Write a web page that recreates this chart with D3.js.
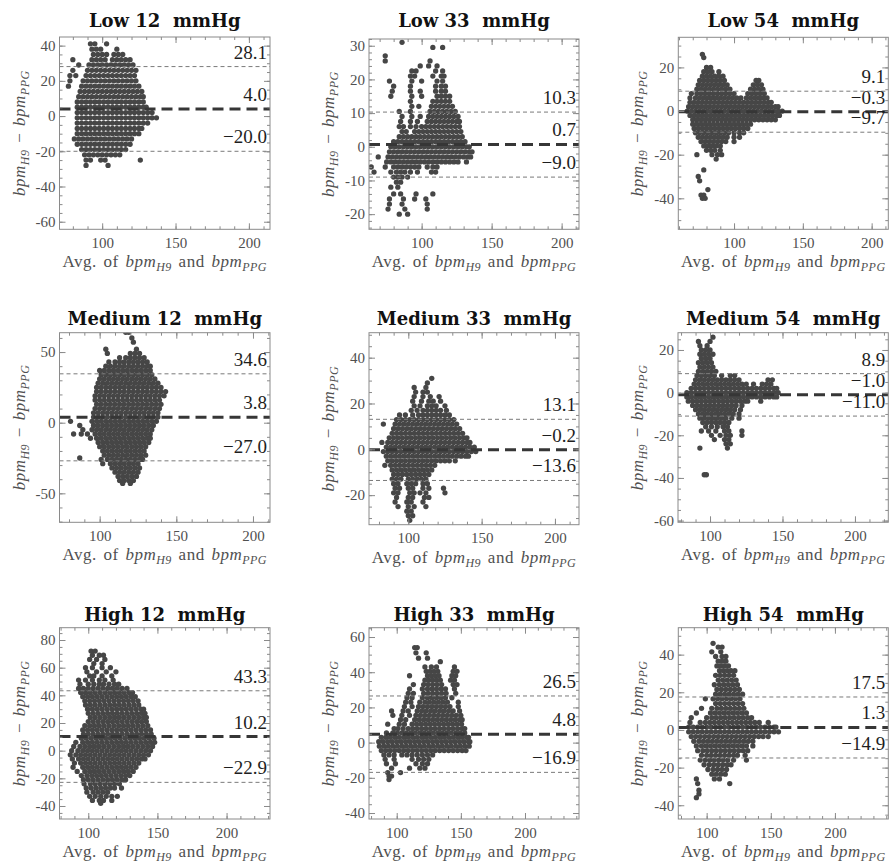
<!DOCTYPE html>
<html>
<head>
<meta charset="utf-8">
<script src="https://cdn.jsdelivr.net/npm/d3@7"></script>
<style>
  body { margin: 0; background: #fff; }
  text { white-space: pre; }
  .serif { font-family: 'Liberation Serif', 'Times New Roman', serif; }
  .title { font-family: 'DejaVu Serif', serif; font-weight: bold; }
</style>
</head>
<body>
<script>
// panel titles, in reading order
const titles = ['Low 12  mmHg', 'Low 33  mmHg', 'Low 54  mmHg',
  'Medium 12  mmHg', 'Medium 33  mmHg', 'Medium 54  mmHg',
  'High 12  mmHg', 'High 33  mmHg', 'High 54  mmHg'];

// mean difference and limits of agreement
const means = [4.0, 0.7, -0.3, 3.8, -0.2, -1.0, 10.2, 4.8, 1.3];
const upperLoA = [28.1, 10.3, 9.1, 34.6, 13.1, 8.9, 43.3, 26.5, 17.5];
const lowerLoA = [-20.0, -9.0, -9.7, -27.0, -13.6, -11.0, -22.9, -16.9, -14.9];

// axis ranges and tick steps
const xDomains = [[70.9, 214.4], [62.4, 212.4], [59.5, 212.1],
  [73.8, 211.1], [73.2, 216.4], [77.9, 223.0],
  [79.2, 231.4], [78.4, 242.1], [77.9, 241.6]];
const yDomains = [[-64.3, 44.9], [-24.5, 32.0], [-54.2, 33.8],
  [-70.5, 63.7], [-32.9, 50.9], [-60.8, 28.1],
  [-49.4, 88.9], [-43.4, 65.3], [-47.3, 54.3]];
const yMajor = [20, 10, 20, 50, 20, 20, 20, 20, 20];
const yMinor = [5, 2, 5, 10, 5, 5, 5, 5, 5];
const xMajor = 50, xMinor = 10;

// scatter points: each row is [difference, average, average, ...]
const low12 = [
  [41, 92, 95, 103],
  [38, 93, 96, 99, 110],
  [35, 94, 97, 100, 103, 108, 111, 114],
  [32, 80, 93, 96, 99, 102, 107, 110, 113, 116, 119],
  [29, 84, 91, 94, 97, 100, 103, 106, 109, 112, 115, 118, 121],
  [26, 80, 90, 93, 96, 99, 102, 105, 108, 111, 114, 117, 120, 123],
  [23, 78, 82, 89, 92, 95, 98, 101, 104, 107, 110, 113, 116, 119, 122],
  [20, 78, 87, 90, 93, 96, 99, 102, 105, 108, 111, 114, 117, 120, 123],
  [17, 77, 86, 89, 92, 95, 98, 101, 104, 107, 110, 113, 116, 119, 122, 125],
  [14, 85, 88, 91, 94, 97, 100, 103, 106, 109, 112, 115, 118, 121, 124, 127],
  [11, 84, 87, 90, 93, 96, 99, 102, 105, 108, 111, 114, 117, 120, 123, 126, 128],
  [8, 83, 86, 89, 92, 95, 98, 101, 104, 107, 110, 113, 116, 119, 122, 125, 128],
  [5, 83, 86, 89, 92, 95, 98, 101, 104, 107, 110, 113, 116, 119, 122, 125, 128, 130],
  [2, 83, 86, 89, 92, 95, 98, 101, 104, 107, 110, 113, 116, 119, 122, 125, 128, 131, 134],
  [-1, 83, 86, 89, 92, 95, 98, 101, 104, 107, 110, 113, 116, 119, 122, 125, 128, 131, 134, 137],
  [-4, 83, 86, 89, 92, 95, 98, 101, 104, 107, 110, 113, 116, 119, 122, 125, 128, 131],
  [-7, 83, 86, 89, 92, 95, 98, 101, 104, 107, 110, 113, 116, 119, 122, 125, 127],
  [-10, 83, 86, 89, 92, 95, 98, 101, 104, 107, 110, 113, 116, 119, 122, 125],
  [-13, 81, 84, 87, 90, 93, 96, 99, 102, 105, 108, 111, 114, 117, 120],
  [-16, 83, 86, 89, 92, 95, 98, 101, 104, 107, 110, 113, 116, 119],
  [-19, 86, 89, 92, 95, 98, 101, 104, 107, 110, 113, 116],
  [-22, 88, 91, 94, 97, 100, 103, 106, 109, 112],
  [-25, 89, 92, 99, 102, 126],
  [-28, 89, 104]
];

const low33 = [
  [31, 86],
  [29.5, 108, 115],
  [27, 74],
  [25.5, 74, 106],
  [24, 99, 105, 111],
  [22.5, 93, 96, 110, 115],
  [21, 92, 95, 108, 114, 116],
  [19.5, 77, 93, 100, 111, 115],
  [18, 80, 92, 110, 114, 117],
  [16.5, 79, 92, 99, 110, 114, 117],
  [15, 78, 93, 100, 111, 114, 117, 120],
  [13.5, 92, 108, 111, 114, 117, 120],
  [12, 93, 98, 107, 110, 113, 116, 119, 122],
  [10.5, 84, 92, 106, 109, 112, 115, 118, 121, 124],
  [9, 86, 93, 99, 105, 108, 111, 114, 117, 120, 123, 126],
  [7.5, 85, 92, 97, 104, 107, 110, 113, 116, 119, 122, 125, 127],
  [6, 84, 87, 92, 96, 100, 103, 106, 109, 112, 115, 118, 121, 124, 127],
  [4.5, 86, 89, 95, 98, 101, 104, 107, 110, 113, 116, 119, 122, 125, 128],
  [3, 84, 87, 90, 93, 96, 99, 102, 105, 108, 111, 114, 117, 120, 123, 126, 129],
  [1.5, 80, 83, 86, 89, 92, 95, 98, 101, 104, 107, 110, 113, 116, 119, 122, 125, 128, 131],
  [0, 78, 81, 84, 87, 90, 93, 96, 99, 102, 105, 108, 111, 114, 117, 120, 123, 126, 129, 132, 134],
  [-1.5, 77, 80, 83, 86, 89, 92, 95, 98, 101, 104, 107, 110, 113, 116, 119, 122, 125, 128, 131, 134, 136],
  [-3, 69, 76, 79, 82, 85, 88, 91, 94, 97, 100, 103, 106, 109, 112, 115, 118, 121, 124, 127, 130, 133, 135],
  [-4.5, 75, 78, 81, 84, 87, 90, 93, 96, 99, 102, 105, 108, 111, 114, 117, 120, 123, 126, 132],
  [-6, 64, 74, 80, 83, 86, 89, 92, 95, 98, 104, 108, 111],
  [-7.5, 66, 78, 82, 85, 88, 92, 97, 107, 110],
  [-9, 80, 83, 86, 90],
  [-10.5, 82, 85],
  [-12, 78, 83],
  [-14, 80, 85, 96, 108],
  [-15.5, 77, 87, 95, 103],
  [-17, 77, 86, 104],
  [-18.5, 76, 88, 104],
  [-20, 84, 90]
];

const low54 = [
  [26, 77],
  [24.5, 78],
  [20, 80, 83],
  [18, 78, 81, 84, 89],
  [16, 77, 80, 83, 86, 89, 92],
  [14, 75, 78, 81, 84, 87, 90, 93, 116, 118],
  [12, 74, 77, 80, 83, 86, 89, 92, 95, 114, 117, 120],
  [10, 73, 76, 79, 82, 85, 88, 91, 94, 97, 112, 115, 118, 121],
  [8, 69, 73, 76, 79, 82, 85, 88, 91, 94, 97, 100, 110, 113, 116, 119, 122],
  [6, 68, 72, 75, 78, 81, 84, 87, 90, 93, 96, 99, 102, 105, 109, 112, 115, 118, 121, 124],
  [4, 68, 71, 74, 77, 80, 83, 86, 89, 92, 95, 98, 101, 104, 107, 110, 113, 116, 119, 122, 125, 127],
  [2, 67, 70, 73, 76, 79, 82, 85, 88, 91, 94, 97, 100, 103, 106, 109, 112, 115, 118, 121, 124, 127, 130, 132],
  [0, 66, 69, 72, 75, 78, 81, 84, 87, 90, 93, 96, 99, 102, 105, 108, 111, 114, 117, 120, 123, 126, 129, 132, 135],
  [-2, 68, 71, 74, 77, 80, 83, 86, 89, 92, 95, 98, 101, 104, 107, 110, 113, 116, 119, 122, 125, 128, 131, 133],
  [-4, 70, 73, 76, 79, 82, 85, 88, 91, 94, 97, 100, 103, 106, 109, 112, 115, 118, 121, 124, 127, 130],
  [-6, 70, 73, 76, 79, 82, 85, 88, 91, 94, 97, 100, 103, 106, 109, 112],
  [-8, 71, 74, 77, 80, 83, 86, 89, 92, 95, 98, 101, 104, 107, 110],
  [-10, 72, 75, 78, 81, 84, 87, 90, 93, 96, 100, 104, 107],
  [-12, 74, 77, 80, 83, 86, 89, 92, 95, 100, 104],
  [-14, 76, 79, 82, 85, 88, 91, 94, 100],
  [-16, 78, 81, 84, 87, 90],
  [-18, 80, 83, 86, 90],
  [-20, 73, 84, 88, 91],
  [-22, 87],
  [-27, 78],
  [-30, 74],
  [-32, 75],
  [-36, 81],
  [-38.5, 76, 78],
  [-40, 77, 79]
];

const med12 = [
  [64, 117, 119],
  [60, 121],
  [57, 122],
  [52, 104, 124],
  [49, 105, 120, 123, 126],
  [46, 113, 117, 120, 123, 126, 129],
  [43, 106, 110, 113, 116, 119, 122, 125, 128, 131],
  [40, 104, 107, 110, 113, 116, 119, 122, 125, 128, 131, 133],
  [37, 100, 103, 106, 109, 112, 115, 118, 121, 124, 127, 130, 133],
  [34, 101, 104, 107, 110, 113, 116, 119, 122, 125, 128, 131, 134],
  [31, 100, 103, 106, 109, 112, 115, 118, 121, 124, 127, 130, 133, 136],
  [28, 99, 102, 105, 108, 111, 114, 117, 120, 123, 126, 129, 132, 135, 138],
  [25, 98, 101, 104, 107, 110, 113, 116, 119, 122, 125, 128, 131, 134, 137, 140],
  [22, 98, 101, 104, 107, 110, 113, 116, 119, 122, 125, 128, 131, 134, 137, 140, 143],
  [19, 97, 100, 103, 106, 109, 112, 115, 118, 121, 124, 127, 130, 133, 136, 139, 142],
  [16, 97, 100, 103, 106, 109, 112, 115, 118, 121, 124, 127, 130, 133, 136, 139],
  [13, 98, 101, 104, 107, 110, 113, 116, 119, 122, 125, 128, 131, 134, 137, 140],
  [10, 97, 100, 103, 106, 109, 112, 115, 118, 121, 124, 127, 130, 133, 136, 139],
  [7, 96, 99, 102, 105, 108, 111, 114, 117, 120, 123, 126, 129, 132, 135, 138],
  [4, 96, 99, 102, 105, 108, 111, 114, 117, 120, 123, 126, 129, 132, 135, 138],
  [1, 81, 95, 98, 101, 104, 107, 110, 113, 116, 119, 122, 125, 128, 131, 134, 137],
  [-2, 87, 96, 99, 102, 105, 108, 111, 114, 117, 120, 123, 126, 129, 132, 135],
  [-5, 89, 95, 98, 101, 104, 107, 110, 113, 116, 119, 122, 125, 128, 131, 134],
  [-8, 83, 88, 92, 97, 100, 103, 106, 109, 112, 115, 118, 121, 124, 127, 130, 133],
  [-11, 94, 98, 101, 104, 107, 110, 113, 116, 119, 122, 125, 128, 131, 133],
  [-14, 99, 102, 105, 108, 111, 114, 117, 120, 123, 126, 129, 132],
  [-17, 100, 103, 106, 109, 112, 115, 118, 121, 124, 127, 130],
  [-20, 102, 105, 108, 111, 114, 117, 120, 123, 126, 129],
  [-23, 103, 106, 109, 112, 115, 118, 121, 124, 127, 130],
  [-25, 87],
  [-26, 101, 105, 108, 111, 114, 117, 120, 123, 126, 128],
  [-29, 102, 107, 110, 113, 116, 119, 122, 125],
  [-32, 108, 111, 114, 117, 120, 123, 126],
  [-35, 110, 113, 116, 119, 122, 125],
  [-38, 112, 115, 118, 121, 124],
  [-41, 113, 116, 119, 122],
  [-43, 115, 120]
];

const med33 = [
  [31, 116],
  [29, 113],
  [27, 104, 112],
  [25, 105, 110, 113],
  [23, 104, 110, 115, 121],
  [21, 103, 109, 114, 117, 122],
  [19, 104, 108, 113, 116, 119, 125],
  [17, 102, 106, 110, 113, 116, 119, 122, 126],
  [15, 94, 98, 103, 107, 110, 113, 116, 119, 122, 125, 128],
  [13, 92, 95, 98, 101, 104, 107, 110, 113, 116, 119, 122, 125, 128, 131],
  [11, 83, 91, 94, 97, 100, 103, 106, 109, 112, 115, 118, 121, 124, 127, 130, 133],
  [9, 90, 93, 96, 99, 102, 105, 108, 111, 114, 117, 120, 123, 126, 129, 132, 135],
  [7, 89, 92, 95, 98, 101, 104, 107, 110, 113, 116, 119, 122, 125, 128, 131, 134, 137],
  [5, 87, 90, 93, 96, 99, 102, 105, 108, 111, 114, 117, 120, 123, 126, 129, 132, 135, 138, 140],
  [3, 82, 86, 89, 92, 95, 98, 101, 104, 107, 110, 113, 116, 119, 122, 125, 128, 131, 134, 137, 140, 142],
  [1, 85, 88, 91, 94, 97, 100, 103, 106, 109, 112, 115, 118, 121, 124, 127, 130, 133, 136, 139, 142, 145],
  [-1, 83, 86, 89, 92, 95, 98, 101, 104, 107, 110, 113, 116, 119, 122, 125, 128, 131, 134, 137, 140, 143, 146],
  [-3, 85, 88, 91, 94, 97, 100, 103, 106, 109, 112, 115, 118, 121, 124, 127, 130, 133, 136, 139, 141],
  [-5, 86, 89, 92, 95, 98, 101, 104, 107, 110, 113, 116, 119, 122, 125, 128, 132],
  [-7, 84, 88, 91, 94, 97, 100, 103, 106, 109, 112, 115, 118],
  [-9, 89, 92, 95, 98, 101, 104, 107, 110, 113, 116],
  [-11, 90, 93, 96, 99, 102, 105, 108, 111, 114],
  [-13, 89, 92, 95, 100, 103, 106, 109, 112],
  [-15, 90, 93, 99, 102, 105, 110, 113],
  [-17, 91, 94, 100, 103, 110, 114, 124],
  [-19, 90, 93, 101, 104, 108, 112, 125],
  [-21, 92, 100, 103, 111, 114],
  [-23, 91, 99, 102, 110],
  [-25, 93, 100, 104, 112],
  [-27, 99, 102],
  [-29, 100, 103],
  [-31, 101]
];

const med54 = [
  [26, 102],
  [24, 92, 100],
  [22, 93, 98],
  [20, 94, 97, 100],
  [18, 93, 96, 99, 102],
  [16, 94, 97, 100],
  [14, 92, 95, 98, 101],
  [12, 93, 96, 99, 102],
  [10, 92, 95, 98, 101, 104],
  [8, 91, 94, 97, 100, 103, 108, 114, 117],
  [6, 90, 93, 96, 99, 102, 105, 108, 111, 114, 117, 120, 140, 143],
  [4, 89, 92, 95, 98, 101, 104, 107, 110, 113, 116, 119, 122, 125, 130, 136, 139, 142],
  [2, 87, 90, 93, 96, 99, 102, 105, 108, 111, 114, 117, 120, 123, 126, 129, 132, 135, 138, 141, 144, 146],
  [0, 84, 87, 90, 93, 96, 99, 102, 105, 108, 111, 114, 117, 120, 123, 126, 129, 132, 135, 138, 141, 144, 147],
  [-2, 84, 87, 90, 93, 96, 99, 102, 105, 108, 111, 114, 117, 120, 123, 126, 129, 132, 135, 138, 141, 144, 146],
  [-4, 85, 88, 91, 94, 97, 100, 103, 106, 109, 112, 115, 118, 121, 124, 126, 135],
  [-6, 88, 91, 94, 97, 100, 103, 106, 109, 112, 115, 118, 122],
  [-8, 90, 93, 96, 99, 102, 105, 108, 111, 114, 117, 121],
  [-10, 92, 95, 98, 101, 104, 107, 110, 113, 116, 120],
  [-12, 93, 96, 99, 102, 105, 108, 111, 115, 120],
  [-14, 95, 98, 101, 104, 107, 110, 113],
  [-16, 97, 101, 105, 109, 112],
  [-18, 94, 99, 104, 110, 113, 122],
  [-20, 101, 107, 111, 114, 122],
  [-22, 103, 110, 113],
  [-24, 111, 114],
  [-26, 93, 112],
  [-38.5, 96, 97.5]
];

const high12 = [
  [72, 102, 105],
  [69, 103, 108, 111],
  [66, 101, 106, 112],
  [63, 104, 110],
  [60, 98, 103, 110, 116],
  [57, 99, 106, 113, 120],
  [54, 101, 104, 110, 117],
  [51, 93, 98, 103, 108, 112, 118],
  [48, 94, 100, 104, 108, 111, 115, 119, 122],
  [45, 93, 96.5, 100, 103.5, 107, 110.5, 114, 117.5, 121, 124.5, 128],
  [42, 94.5, 98, 101.5, 105, 108.5, 112, 115.5, 119, 122.5, 126, 129.5, 132],
  [39, 96, 99.5, 103, 106.5, 110, 113.5, 117, 120.5, 124, 127.5, 131, 134],
  [36, 97.5, 101, 104.5, 108, 111.5, 115, 118.5, 122, 125.5, 129, 132.5, 136],
  [33, 98, 101.5, 105, 108.5, 112, 115.5, 119, 122.5, 126, 129.5, 133, 136.5],
  [30, 99.5, 103, 106.5, 110, 113.5, 117, 120.5, 124, 127.5, 131, 134.5, 138, 140],
  [27, 100, 103.5, 107, 110.5, 114, 117.5, 121, 124.5, 128, 131.5, 135, 138.5, 141],
  [24, 101.5, 105, 108.5, 112, 115.5, 119, 122.5, 126, 129.5, 133, 136.5, 140, 142],
  [21, 100, 103.5, 107, 110.5, 114, 117.5, 121, 124.5, 128, 131.5, 135, 138.5, 142],
  [18, 97.5, 101, 104.5, 108, 111.5, 115, 118.5, 122, 125.5, 129, 132.5, 136, 139.5, 143],
  [15, 96, 99.5, 103, 106.5, 110, 113.5, 117, 120.5, 124, 127.5, 131, 134.5, 138, 141.5, 145],
  [12, 96.5, 100, 103.5, 107, 110.5, 114, 117.5, 121, 124.5, 128, 131.5, 135, 138.5, 142, 145.5],
  [9, 95, 98.5, 102, 105.5, 109, 112.5, 116, 119.5, 123, 126.5, 130, 133.5, 137, 140.5, 144, 147.5],
  [6, 91, 96, 99.5, 103, 106.5, 110, 113.5, 117, 120.5, 124, 127.5, 131, 134.5, 138, 141.5, 145, 148],
  [3, 89.5, 94, 97.5, 101, 104.5, 108, 111.5, 115, 118.5, 122, 125.5, 129, 132.5, 136, 139.5, 143, 146.5],
  [0, 88, 92.5, 96, 99.5, 103, 106.5, 110, 113.5, 117, 120.5, 124, 127.5, 131, 134.5, 138, 141.5, 145],
  [-3, 87, 91, 94.5, 98, 101.5, 105, 108.5, 112, 115.5, 119, 122.5, 126, 129.5, 133, 136.5, 140, 143.5],
  [-6, 88.5, 93, 96.5, 100, 103.5, 107, 110.5, 114, 117.5, 121, 124.5, 128, 131.5, 135, 138.5, 141],
  [-9, 90, 94.5, 98, 101.5, 105, 108.5, 112, 115.5, 119, 122.5, 126, 129.5, 133, 136.5],
  [-12, 89, 96, 99.5, 103, 106.5, 110, 113.5, 117, 120.5, 124, 127.5, 131, 134.5],
  [-15, 92, 97.5, 101, 104.5, 108, 111.5, 115, 118.5, 122, 125.5, 129, 132.5],
  [-18, 95, 99, 102.5, 106, 109.5, 113, 116.5, 120, 123.5, 127, 130],
  [-21, 96.5, 100, 103.5, 107, 110.5, 114, 117.5, 121, 124.5, 127],
  [-24, 97, 101.5, 105, 108.5, 112, 115.5, 119, 122.5],
  [-27, 98.5, 102, 105.5, 109, 112.5, 116, 119, 124],
  [-30, 99, 103.5, 107, 110.5, 114],
  [-33, 101, 105, 109, 113, 117, 121],
  [-36, 103, 108, 111, 117],
  [-38, 109]
];

const high33 = [
  [54, 114, 116],
  [51, 115, 123],
  [48, 117, 124],
  [46, 134],
  [43, 122, 127, 131, 145],
  [40.5, 123, 126, 129, 132, 144, 147],
  [38, 110, 124, 127, 130, 133, 143, 146],
  [35.5, 122, 125, 128, 131, 134, 142, 145],
  [33, 113, 121, 124.5, 128, 131.5, 135, 144, 147],
  [30.5, 110, 120, 124, 127.5, 131, 134.5, 138, 145],
  [28, 109, 113, 121, 124.5, 128, 131.5, 135, 138.5, 146],
  [25.5, 108, 112, 120, 124, 127.5, 131, 134.5, 138, 143],
  [23, 107, 111, 118, 122, 125.5, 129, 132.5, 136, 139.5, 148],
  [20.5, 106, 112, 117, 120.5, 124, 127.5, 131, 134.5, 138, 141.5, 148],
  [18, 96, 105, 109, 116, 119.5, 123, 126.5, 130, 133.5, 137, 140.5, 144, 149],
  [15.5, 97, 104, 110, 115, 118.5, 122, 125.5, 129, 132.5, 136, 139.5, 143, 146.5, 150],
  [13, 103, 107, 114, 117.5, 121, 124.5, 128, 131.5, 135, 138.5, 142, 145.5, 149, 151],
  [10.5, 93, 102, 106, 112, 115.5, 119, 122.5, 126, 129.5, 133, 136.5, 140, 143.5, 147, 150.5],
  [8, 98, 101, 105, 109, 112.5, 116, 119.5, 123, 126.5, 130, 133.5, 137, 140.5, 144, 147.5, 151, 153],
  [5.5, 92, 97, 100.5, 104, 107.5, 111, 114.5, 118, 121.5, 125, 128.5, 132, 135.5, 139, 142.5, 146, 149.5, 153],
  [3, 88, 91.5, 95, 98.5, 102, 105.5, 109, 112.5, 116, 119.5, 123, 126.5, 130, 133.5, 137, 140.5, 144, 147.5, 151, 154.5, 156],
  [0.5, 86, 89.5, 93, 96.5, 100, 103.5, 107, 110.5, 114, 117.5, 121, 124.5, 128, 131.5, 135, 138.5, 142, 145.5, 149, 152.5, 156, 157],
  [-2, 86.5, 90, 93.5, 97, 100.5, 104, 107.5, 111, 114.5, 118, 121.5, 125, 128.5, 132, 135.5, 139, 142.5, 146, 149.5, 153, 156.5],
  [-4.5, 88, 91.5, 95, 98.5, 102, 105.5, 109, 112.5, 116, 119.5, 123, 126.5, 130, 133.5, 137, 140.5, 144, 147.5, 151, 154],
  [-7, 90, 94, 98, 104, 108, 112, 116, 120, 124, 128],
  [-9.5, 91, 98, 112, 117, 121, 125],
  [-12, 92, 99, 115, 120, 124],
  [-14.5, 96, 110, 118, 122],
  [-17, 93, 103],
  [-19, 94, 96],
  [-21, 94]
];

const high54 = [
  [46, 105],
  [44, 109, 112],
  [41.5, 104, 111],
  [39, 107, 112, 115],
  [36.5, 109, 112, 115],
  [34, 108, 111, 114, 117],
  [31.5, 110, 113, 116, 119, 122],
  [29, 107, 110.5, 114, 117.5, 121],
  [26.5, 109, 112.5, 116, 119.5, 123],
  [24, 106, 110, 113.5, 117, 120.5, 124],
  [21.5, 108, 111.5, 115, 118.5, 122, 125.5],
  [19, 107, 110.5, 114, 117.5, 121, 124.5, 128],
  [16.5, 99, 105, 108.5, 112, 115.5, 119, 122.5, 126],
  [14, 107, 110.5, 114, 117.5, 121, 124.5, 128],
  [11.5, 96, 104, 108, 111.5, 115, 118.5, 122, 125.5, 129],
  [9, 92, 103, 106.5, 110, 113.5, 117, 120.5, 124, 127.5, 131],
  [6.5, 88, 100, 104, 107.5, 111, 114.5, 118, 121.5, 125, 128.5, 132, 135],
  [4, 87, 95, 99, 102.5, 106, 109.5, 113, 116.5, 120, 123.5, 127, 130.5, 134, 137.5, 141, 148],
  [1.5, 86, 89.5, 93, 96.5, 100, 103.5, 107, 110.5, 114, 117.5, 121, 124.5, 128, 131.5, 135, 138.5, 142, 145.5, 149, 152.5, 154],
  [-1, 86, 89.5, 93, 96.5, 100, 103.5, 107, 110.5, 114, 117.5, 121, 124.5, 128, 131.5, 135, 138.5, 142, 145.5, 149, 152.5, 156],
  [-3.5, 88, 91.5, 95, 98.5, 102, 105.5, 109, 112.5, 116, 119.5, 123, 126.5, 130, 133.5, 137, 140.5, 144, 148],
  [-6, 90, 94, 97.5, 101, 104.5, 108, 111.5, 115, 118.5, 122, 125.5, 129, 132.5, 136],
  [-8.5, 92, 96, 99.5, 103, 106.5, 110, 113.5, 117, 120.5, 124, 127.5, 131, 136],
  [-11, 93, 97, 100.5, 104, 107.5, 111, 114.5, 118, 121.5, 125, 128.5, 132],
  [-13.5, 96, 100, 103.5, 107, 110.5, 114, 117.5, 121, 124, 130],
  [-16, 95, 99, 102.5, 106, 109.5, 113, 116.5, 121, 131],
  [-18.5, 98, 102, 105.5, 109, 112.5, 116, 119],
  [-21, 101, 105, 108.5, 112, 115.5],
  [-23.5, 104, 107.5, 111, 114.5],
  [-26, 92, 106, 110],
  [-28.5, 93, 118],
  [-32, 94],
  [-34, 94],
  [-36, 92]
];

const series = [low12, low33, low54, med12, med33, med54, high12, high33, high54];

// axis label pieces: 0 roman, 1 italic, 2 italic subscript
const xLabelParts = [['Avg. of ', 0], ['bpm', 1], ['H9', 2], [' and ', 0], ['bpm', 1], ['PPG', 2]];
const yLabelParts = [['bpm', 1], ['H9', 2], [' \u2212 ', 0], ['bpm', 1], ['PPG', 2]];

// ---- layout (pixels) ----
const width = 889, height = 863;
const frames = [
  { x: 59.5, y: 37, w: 210.5, h: 192.3 },
  { x: 369, y: 39, w: 210, h: 190.3 },
  { x: 678.3, y: 37.3, w: 210, h: 192 },
  { x: 59.5, y: 332.7, w: 210.5, h: 189.6 },
  { x: 369, y: 332.7, w: 210, h: 192 },
  { x: 678, y: 332.7, w: 210.3, h: 189.6 },
  { x: 59.5, y: 627.7, w: 210.5, h: 191.3 },
  { x: 369, y: 627.7, w: 210, h: 191.3 },
  { x: 678.3, y: 627.7, w: 210, h: 191.3 }
];
const titleBaseline = [27.3, 325, 621];

const frameColor = '#8a8a8a';
const labelColor = '#505050';

const svg = d3.select('body')
  .append('svg')
  .attr('width', width)
  .attr('height', height);

function stepsIn(domain, step) {
  const lo = Math.ceil(domain[0] / step) * step;
  return d3.range(lo, domain[1] + 1e-9, step);
}

function writeLabel(text, parts) {
  let inSub = false;
  parts.forEach(([t, kind]) => {
    const ts = text.append('tspan').text(t);
    if (kind > 0) ts.attr('font-style', 'italic');
    if (kind === 2) {
      ts.attr('font-size', 12).attr('dy', 4);
      inSub = true;
    } else if (inSub) {
      ts.attr('dy', -4);
      inSub = false;
    }
  });
}

function fmt(v) {
  return v.toFixed(1).replace('-', '\u2212');
}

series.forEach((rows, i) => {
  const f = frames[i];
  const x = d3.scaleLinear().domain(xDomains[i]).range([f.x, f.x + f.w]);
  const y = d3.scaleLinear().domain(yDomains[i]).range([f.y + f.h, f.y]);
  const g = svg.append('g').attr('class', 'panel');

  g.append('clipPath').attr('id', 'clip' + i)
    .append('rect')
    .attr('x', f.x).attr('y', f.y).attr('width', f.w).attr('height', f.h);

  const pts = rows.flatMap(([d, ...avgs]) => avgs.map(a => ({ avg: a, diff: d })));

  const plot = g.append('g').attr('clip-path', `url(#clip${i})`);

  plot.selectAll('circle')
    .data(pts)
    .enter()
    .append('circle')
    .attr('cx', d => x(d.avg))
    .attr('cy', d => y(d.diff))
    .attr('r', 2.65)
    .attr('fill', '#464646');

  // limits of agreement (thin dashed) and mean (thick dashed)
  plot.selectAll('line.loa')
    .data([upperLoA[i], lowerLoA[i]])
    .enter()
    .append('line')
    .attr('class', 'loa')
    .attr('x1', f.x).attr('x2', f.x + f.w)
    .attr('y1', d => y(d)).attr('y2', d => y(d))
    .attr('stroke', '#7a7a7a')
    .attr('stroke-width', 1)
    .attr('stroke-dasharray', '4,3');

  plot.append('line')
    .attr('x1', f.x).attr('x2', f.x + f.w)
    .attr('y1', y(means[i])).attr('y2', y(means[i]))
    .attr('stroke', '#363636')
    .attr('stroke-width', 3)
    .attr('stroke-dasharray', '11,6');

  // ticks on all four sides, pointing inwards
  const xMaj = stepsIn(xDomains[i], xMajor);
  const xMin = stepsIn(xDomains[i], xMinor);
  const yMaj = stepsIn(yDomains[i], yMajor[i]);
  const yMin = stepsIn(yDomains[i], yMinor[i]);

  const axes = [
    [d3.axisBottom(x).tickValues(xMaj).tickSize(-6).tickPadding(8).tickFormat(d => String(d)), `translate(0,${f.y + f.h})`],
    [d3.axisBottom(x).tickValues(xMin).tickSize(-3).tickFormat(''), `translate(0,${f.y + f.h})`],
    [d3.axisTop(x).tickValues(xMaj).tickSize(-6).tickFormat(''), `translate(0,${f.y})`],
    [d3.axisTop(x).tickValues(xMin).tickSize(-3).tickFormat(''), `translate(0,${f.y})`],
    [d3.axisLeft(y).tickValues(yMaj).tickSize(-6).tickPadding(4).tickFormat(d => String(d)), `translate(${f.x},0)`],
    [d3.axisLeft(y).tickValues(yMin).tickSize(-3).tickFormat(''), `translate(${f.x},0)`],
    [d3.axisRight(y).tickValues(yMaj).tickSize(-6).tickFormat(''), `translate(${f.x + f.w},0)`],
    [d3.axisRight(y).tickValues(yMin).tickSize(-3).tickFormat(''), `translate(${f.x + f.w},0)`]
  ];
  axes.forEach(([ax, tr]) => {
    g.append('g')
      .attr('transform', tr)
      .call(ax)
      .call(s => s.attr('font-family', null).attr('font-size', null))
      .call(s => s.select('.domain').remove())
      .call(s => s.selectAll('line').attr('stroke', frameColor))
      .call(s => s.selectAll('text')
        .attr('class', 'serif')
        .attr('font-size', 15)
        .attr('fill', labelColor));
  });

  g.append('rect')
    .attr('x', f.x).attr('y', f.y)
    .attr('width', f.w).attr('height', f.h)
    .attr('fill', 'none')
    .attr('stroke', frameColor)
    .attr('stroke-width', 1);

  // value labels above each horizontal line
  g.selectAll('text.val')
    .data([upperLoA[i], means[i], lowerLoA[i]])
    .enter()
    .append('text')
    .attr('class', 'val serif')
    .attr('x', f.x + f.w - 3)
    .attr('y', d => y(d) - 8)
    .attr('text-anchor', 'end')
    .attr('font-size', 19)
    .attr('fill', '#1e1e1e')
    .text(fmt);

  // title
  g.append('text')
    .attr('class', 'title')
    .attr('x', f.x + f.w / 2)
    .attr('y', titleBaseline[Math.floor(i / 3)])
    .attr('text-anchor', 'middle')
    .attr('font-size', 18)
    .attr('fill', '#111')
    .text(titles[i]);

  // axis titles
  const xl = g.append('text')
    .attr('class', 'serif')
    .attr('x', f.x + f.w / 2)
    .attr('y', f.y + f.h + 38)
    .attr('text-anchor', 'middle')
    .attr('font-size', 17)
    .attr('letter-spacing', 0.5)
    .attr('word-spacing', 2)
    .attr('fill', labelColor);
  writeLabel(xl, xLabelParts);

  const yl = g.append('text')
    .attr('class', 'serif')
    .attr('transform', `translate(${f.x - 35},${f.y + f.h / 2}) rotate(-90)`)
    .attr('text-anchor', 'middle')
    .attr('font-size', 17)
    .attr('letter-spacing', 0.5)
    .attr('word-spacing', 2)
    .attr('fill', labelColor);
  writeLabel(yl, yLabelParts);
});
</script>
</body>
</html>
